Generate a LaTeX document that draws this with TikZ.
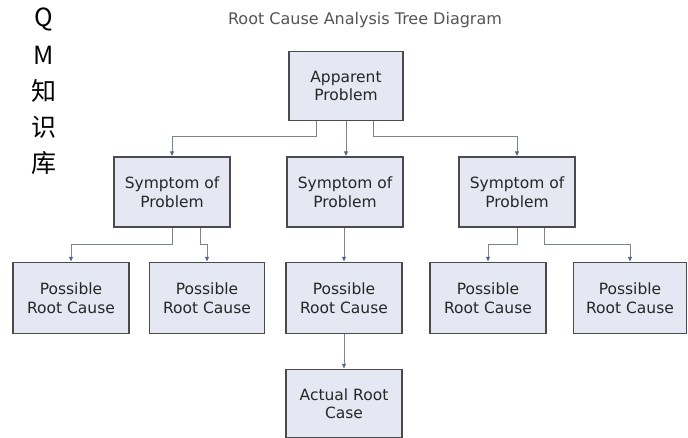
\documentclass[tikz,border=0pt]{standalone}
\usepackage{fontspec}
\setmainfont{DejaVu Sans}
\newfontfamily\cjkfont{Noto Sans CJK SC}
\usetikzlibrary{arrows.meta,calc}
\definecolor{boxfill}{HTML}{E5E7F3}
\definecolor{boxdraw}{HTML}{4A4A4F}
\definecolor{conncol}{HTML}{7A8497}
\definecolor{tipcol}{HTML}{56648A}
\definecolor{titlecol}{HTML}{555555}
\tikzset{
  box/.style={draw=boxdraw, fill=boxfill, line width=1.1pt, minimum width=116pt, minimum height=70pt,
    align=center, font=\fontsize{15.5}{18.5}\selectfont, text=black!85, inner sep=2pt},
  conn/.style={draw=conncol, line width=1pt, -{Latex[length=5pt,width=4.5pt,color=tipcol]}},
  side/.style={font=\cjkfont\fontsize{25}{27}\selectfont, text=black}
}
\begin{document}
\begin{tikzpicture}[x=1pt,y=1pt]
\useasboundingbox (0,0) rectangle (688,438);
\fill[white] (0,0) rectangle (688,438);
% side characters
\node[side] (q) at (44,419) {Q};
\node[side] (m) at (44,383) {M};
\node[side] (c1) at (44,347) {知};
\node[side] (c2) at (44,311) {识};
\node[side] (c3) at (44,275) {库};
% title
\node[font=\fontsize{16}{18}\selectfont, text=titlecol] (title) at (365,418) {Root Cause Analysis Tree Diagram};
% boxes
\node[box, minimum width=114pt, minimum height=69pt] (app) at (346,352) {Apparent\\Problem};
\node[box] (s1) at (172,246) {Symptom of\\Problem};
\node[box] (s2) at (345,246) {Symptom of\\Problem};
\node[box] (s3) at (517,246) {Symptom of\\Problem};
\node[box, minimum height=71pt] (p1) at (71,140) {Possible\\Root Cause};
\node[box, minimum width=115pt, minimum height=71pt] (p2) at (207,140) {Possible\\Root Cause};
\node[box, minimum height=71pt] (p3) at (344,140) {Possible\\Root Cause};
\node[box, minimum height=71pt] (p4) at (488,140) {Possible\\Root Cause};
\node[box, minimum width=113pt, minimum height=71pt] (p5) at (630,140) {Possible\\Root Cause};
\node[box, minimum height=68pt] (act) at (344,34.5) {Actual Root\\Case};
% connectors
\draw[conn] ([xshift=-30pt]app.south) |- ([yshift=20pt]s1.north) -- (s1.north);
\draw[conn] (app.south) -- (app.south |- s2.north);
\draw[conn] ([xshift=27pt]app.south) |- ([yshift=20pt]s3.north) -- (s3.north);
\draw[conn] (s1.south) |- ([yshift=17pt]p1.north) -- (p1.north);
\draw[conn] ([xshift=28pt]s1.south) |- ([yshift=17pt]p2.north) -- (p2.north);
\draw[conn] (p3.north |- s2.south) -- (p3.north);
\draw[conn] (s3.south) |- ([yshift=17pt]p4.north) -- (p4.north);
\draw[conn] ([xshift=27pt]s3.south) |- ([yshift=17pt]p5.north) -- (p5.north);
\draw[conn] (p3.south) -- (act.north);
\end{tikzpicture}
\end{document}
